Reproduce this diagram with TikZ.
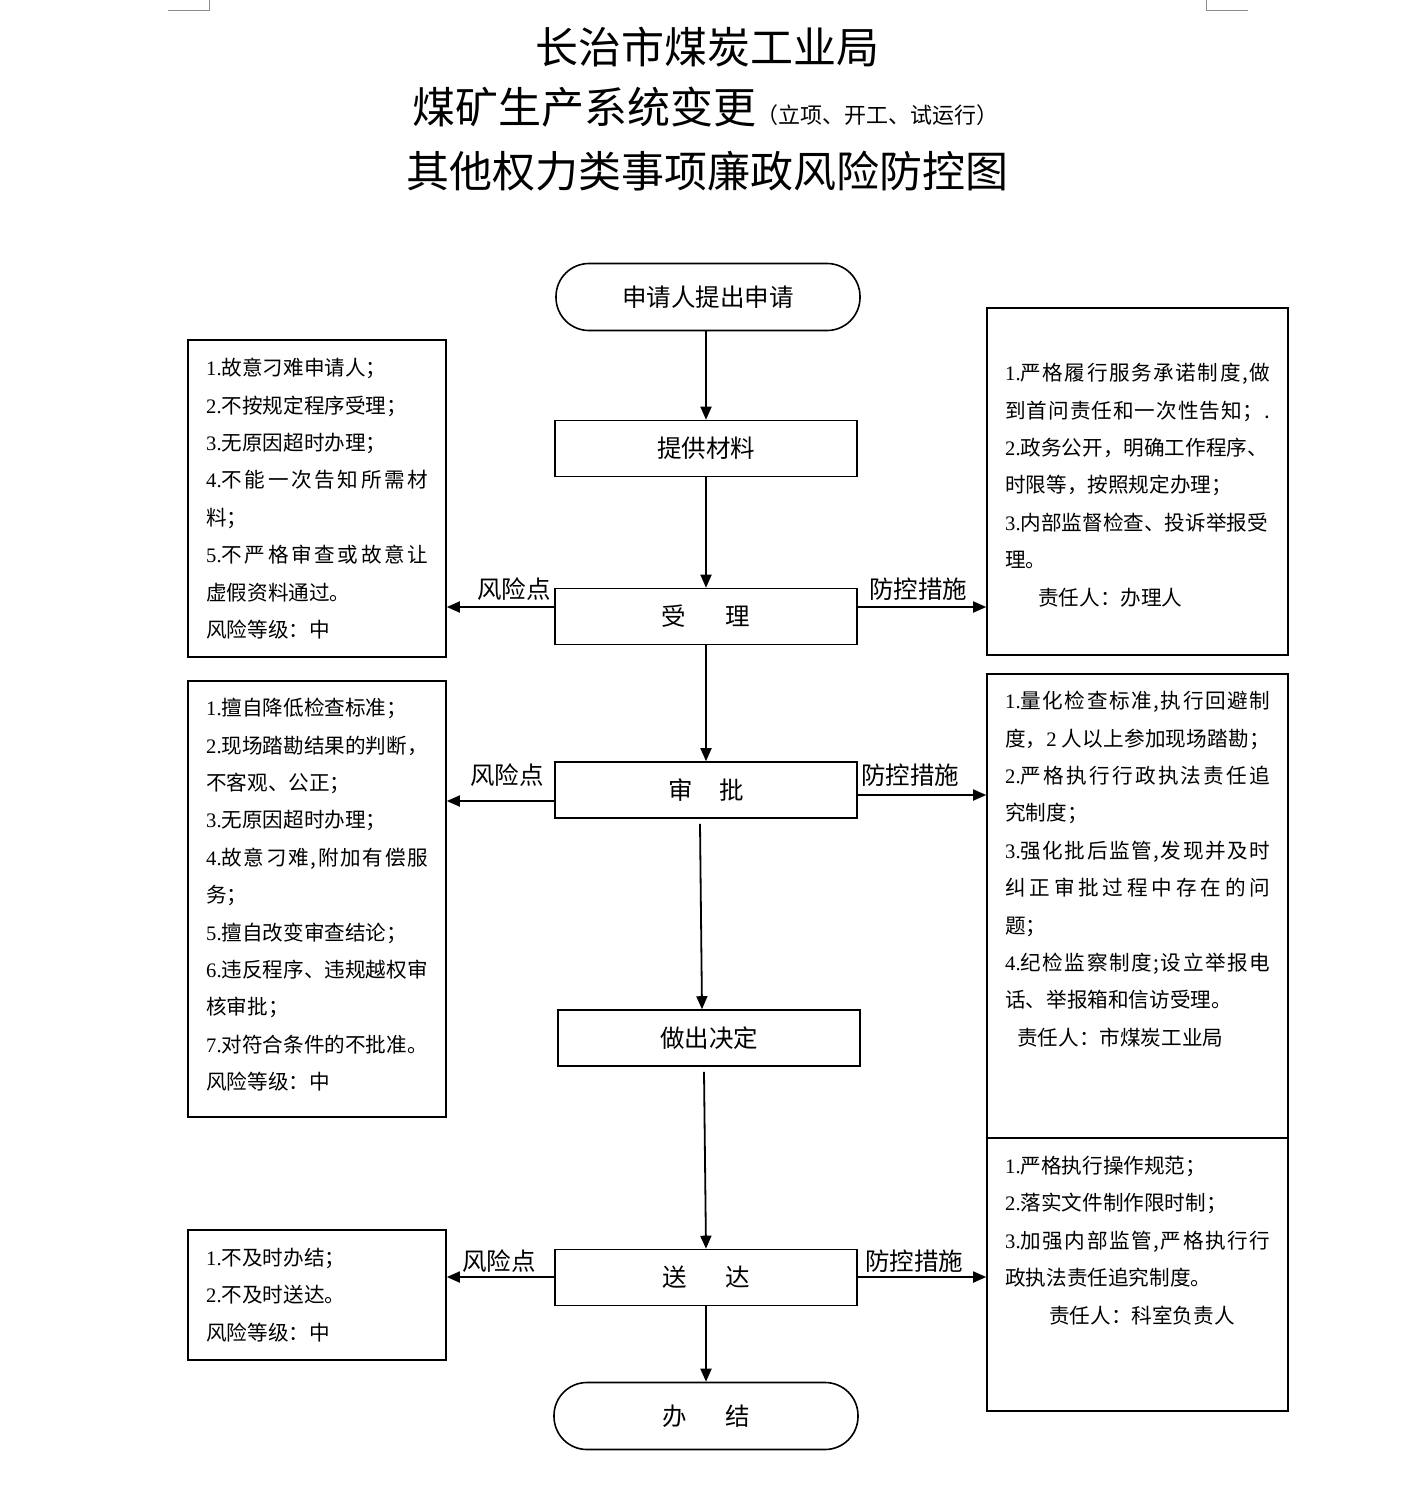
\documentclass[tikz,border=0pt]{standalone}
\usepackage{fontspec}
\setmainfont{Noto Sans CJK SC}
\newfontfamily\tms{Liberation Serif}
\usetikzlibrary{arrows.meta,calc}
\newcommand\nm[1]{{\tms #1}}
\makeatletter
\def\spreadit#1{#1\futurelet\sp@next\sp@check}
\def\sp@check{\ifx\sp@next\relax\expandafter\sp@end\else\hfil\expandafter\spreadit\fi}
\def\sp@end\relax{}
\makeatother
\newcommand\jL[2]{\hbox to 222pt{#1\spreadit#2\relax}}
\newcommand\jR[2]{\hbox to 265pt{#1\spreadit#2\relax}}
\begin{document}
\begin{tikzpicture}[x=1pt,y=-1pt,
  proc/.style={draw,line width=1.6pt,minimum width=302pt,minimum height=56pt,inner sep=0pt,font=\fontsize{24.5}{27}\selectfont},
  term/.style={draw,line width=1.6pt,rounded corners=33pt,minimum width=304pt,minimum height=67pt,inner sep=0pt,font=\fontsize{24.5}{27}\selectfont},
  side/.style={draw,line width=1.6pt,inner sep=0pt},
  boxtext/.style={anchor=north west,inner sep=0pt,align=left,font=\fontsize{20.6}{37.4}\selectfont},
  lab/.style={inner sep=0pt,font=\fontsize{24.5}{27}\selectfont},
  arr/.style={line width=1.8pt,-{Triangle[length=13pt,width=11pt]}},
  cropmark/.style={line width=0.8pt,draw=black!45}]
\useasboundingbox (0,0) rectangle (1418,1493);
\fill[white] (0,0) rectangle (1418,1493);
% corner marks
\coordinate (m1) at (168,10); \coordinate (m2) at (209,10); \coordinate (m3) at (209,0);
\coordinate (m4) at (1206,0); \coordinate (m5) at (1206,10); \coordinate (m6) at (1248,10);
\draw[cropmark] (m1) -- (m2) -- (m3);
\draw[cropmark] (m4) -- (m5) -- (m6);
% titles
\node[anchor=base,inner sep=0pt,font=\fontsize{43}{46}\selectfont] (t1) at (707,64) {长治市煤炭工业局};
\node[anchor=base,inner sep=0pt] (t2) at (705,124) {{\fontsize{43}{46}\selectfont 煤矿生产系统变更}{\fontsize{22}{24}\selectfont （立项、开工、试运行）}};
\node[anchor=base,inner sep=0pt,font=\fontsize{43}{46}\selectfont] (t3) at (707,187) {其他权力类事项廉政风险防控图};
% flow nodes
\node[term] (st) at (708,297) {申请人提出申请};
\node[proc] (tg) at (706,448.5) {提供材料};
\node[proc] (sl) at (706,616.5) {受\hspace{40pt}理};
\node[proc] (sp) at (706,790) {审\hspace{27pt}批};
\node[proc] (jd) at (709,1038) {做出决定};
\node[proc] (sd) at (706,1277.5) {送\hspace{39pt}达};
\node[term] (bj) at (706,1416) {办\hspace{39pt}结};
% side boxes
\node[side,minimum width=258pt,minimum height=317pt] (L1) at (317,498.5) {};
\node[side,minimum width=258pt,minimum height=436pt] (L2) at (317,899) {};
\node[side,minimum width=258pt,minimum height=130pt] (L3) at (317,1295) {};
\node[side,minimum width=301pt,minimum height=347pt] (R1) at (1137.5,481.5) {};
\node[side,minimum width=301pt,minimum height=464pt] (R2) at (1137.5,906) {};
\node[side,minimum width=301pt,minimum height=273pt] (R3) at (1137.5,1274.5) {};
% box texts
\node[boxtext] (L1t) at (206,358) {\nm{1.}故意刁难申请人；\\\nm{2.}不按规定程序受理；\\\nm{3.}无原因超时办理；\\\jL{\nm{4.}}{不能一次告知所需材}\\料；\\\jL{\nm{5.}}{不严格审查或故意让}\\虚假资料通过。\\风险等级：中};
\node[boxtext] (L2t) at (206,698) {\nm{1.}擅自降低检查标准；\\\nm{2.}现场踏勘结果的判断，\\不客观、公正；\\\nm{3.}无原因超时办理；\\\jL{\nm{4.}}{故意刁难,附加有偿服}\\务；\\\nm{5.}擅自改变审查结论；\\\nm{6.}违反程序、违规越权审\\核审批；\\\nm{7.}对符合条件的不批准。\\风险等级：中};
\node[boxtext] (L3t) at (206,1248) {\nm{1.}不及时办结；\\\nm{2.}不及时送达。\\风险等级：中};
\node[boxtext] (R1t) at (1005,363) {\jR{\nm{1.}}{严格履行服务承诺制度,做}\\\jR{}{到首问责任和一次性告知；.}\\\nm{2.}政务公开，明确工作程序、\\时限等，按照规定办理；\\\nm{3.}内部监督检查、投诉举报受\\理。\\\hspace*{33pt}责任人：办理人};
\node[boxtext] (R2t) at (1005,691) {\jR{\nm{1.}}{量化检查标准,执行回避制}\\\jR{度，\nm{2}\ }{人以上参加现场踏勘；}\\\jR{\nm{2.}}{严格执行行政执法责任追}\\究制度；\\\jR{\nm{3.}}{强化批后监管,发现并及时}\\\jR{}{纠正审批过程中存在的问}\\题；\\\jR{\nm{4.}}{纪检监察制度;设立举报电}\\话、举报箱和信访受理。\\\hspace*{12pt}责任人：市煤炭工业局};
\node[boxtext] (R3t) at (1005,1156) {\nm{1.}严格执行操作规范；\\\nm{2.}落实文件制作限时制；\\\jR{\nm{3.}}{加强内部监管,严格执行行}\\政执法责任追究制度。\\\hspace*{44pt}责任人：科室负责人};
% vertical arrows
\draw[arr] (tg.north |- st.south) -- (tg.north);
\draw[arr] (tg.south) -- (sl.north);
\draw[arr] (sl.south) -- (sp.north);
\draw[arr] ($(sp.south)+(-6,5)$) -- ($(jd.north)+(-7,0)$);
\draw[arr] ($(jd.south)+(-5,5)$) -- (sd.north);
\draw[arr] (sd.south) -- (bj.north);
% horizontal arrows
\coordinate (y1) at (0,607); \coordinate (y2l) at (0,801); \coordinate (y2r) at (0,795); \coordinate (y3) at (0,1277);
\draw[arr] (sl.west |- y1) -- (L1.east |- y1);
\draw[arr] (sl.east |- y1) -- (R1.west |- y1);
\draw[arr] (sp.west |- y2l) -- (L2.east |- y2l);
\draw[arr] (sp.east |- y2r) -- (R2.west |- y2r);
\draw[arr] (sd.west |- y3) -- (L3.east |- y3);
\draw[arr] (sd.east |- y3) -- (R3.west |- y3);
% labels
\node[lab] (f1) at (514,589) {风险点};
\node[lab] (c1) at (918,589) {防控措施};
\node[lab] (f2) at (507,775) {风险点};
\node[lab] (c2) at (910,775) {防控措施};
\node[lab] (f3) at (499,1261) {风险点};
\node[lab] (c3) at (914,1261) {防控措施};
\end{tikzpicture}
\end{document}
